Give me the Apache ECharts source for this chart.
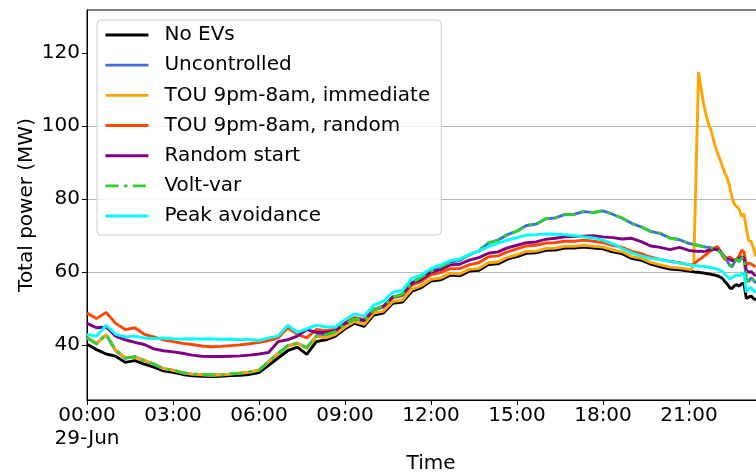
<!DOCTYPE html>
<html><head><meta charset="utf-8">
<script src="https://cdn.jsdelivr.net/npm/echarts@6/dist/echarts.min.js"></script>
<style>html,body{margin:0;padding:0;background:#fff}#c{width:756px;height:472px}</style>
</head><body><div id="c"></div>
<script>
// time of day, minutes after 00:00 on 29-Jun
const timesMin = [0,20,40,60,80,100,120,140,160,180,200,220,240,260,280,300,320,340,360,380,400,420,440,460,480,500,520,540,560,580,600,620,640,660,680,700,720,740,760,780,800,820,840,860,880,900,920,940,960,980,1000,1020,1040,1060,1080,1100,1120,1140,1160,1180,1200,1220,1240,1260,
1265,1270,1275,1280,1285,1290,1295,1300,1305,1310,1315,1320,1325,1330,1335,1340,1345,1350,1355,1360,1365,1370,1375,1380,1385,1390,1395,1400];

const seriesNames = ['No EVs','Uncontrolled','TOU 9pm-8am, immediate','TOU 9pm-8am, random','Random start','Volt-var','Peak avoidance'];

const noEVs = [40.3,38.8,37.6,37.0,35.3,35.8,34.8,34.0,33.0,32.6,
32.0,31.6,31.5,31.4,31.5,31.7,31.8,32.0,32.5,34.5,
36.5,38.5,39.5,37.5,41.0,41.5,42.5,44.5,46.0,45.2,
48.3,48.8,51.5,51.8,54.8,55.8,57.6,57.9,59.2,59.0,
60.3,60.5,62.1,62.3,63.6,64.3,65.2,65.3,66.0,66.1,
66.6,66.6,66.9,66.6,66.4,65.6,65.1,63.8,63.3,62.2,
61.5,60.9,60.7,60.3,
60.2,60.1,60.0,60.0,59.9,59.8,59.7,59.6,59.5,59.3,59.2,59.0,58.7,58.3,57.5,56.8,55.8,55.5,56.3,56.6,56.2,56.8,57.0,52.8,53.2,53.5,52.8,52.4];

const uncontrolled = [42.0,40.5,42.8,38.5,36.5,36.8,35.8,34.8,33.6,33.2,
32.5,32.1,31.9,31.8,31.9,32.1,32.3,32.6,33.2,35.5,
37.8,39.8,40.6,39.2,42.6,42.8,43.8,45.8,47.3,46.6,
49.8,50.6,53.2,53.8,57.2,58.6,60.4,61.3,62.8,63.2,
64.8,65.8,68.0,68.8,70.3,71.3,72.8,73.2,74.6,74.9,
75.8,75.9,76.6,76.4,76.8,75.9,74.8,73.4,72.4,71.2,
70.6,69.4,68.9,67.9,
67.8,67.6,67.5,67.3,67.2,67.1,66.9,66.8,66.7,66.5,66.3,66.0,65.5,65.0,64.0,63.0,62.0,61.5,62.8,63.5,63.0,63.8,64.3,58.0,57.5,58.5,57.8,57.0];

const touImmediate = [42.1,40.4,42.9,38.6,36.6,36.7,35.9,34.8,33.6,33.1,
32.5,32.1,32.0,31.8,31.9,32.1,32.4,32.6,33.2,35.4,
37.8,39.7,40.6,39.1,42.5,42.0,43.0,45.0,46.5,45.7,
48.8,49.3,52.0,52.3,55.3,56.3,58.1,58.4,59.7,59.5,
60.8,61.0,62.6,62.8,64.1,64.8,65.7,65.8,66.5,66.6,
67.1,67.1,67.4,67.1,66.9,66.1,65.6,64.3,63.8,62.7,
62.0,61.4,61.2,60.8,
60.7,62.0,88.5,114.9,110.5,106.5,103.5,101.0,99.3,97.0,94.5,92.5,90.8,89.0,87.3,85.8,83.5,80.5,78.6,78.0,77.3,75.3,76.0,72.0,68.6,68.5,66.5,64.3];

const touRandom = [48.8,47.3,49.0,46.0,44.3,44.8,43.0,42.3,41.5,41.0,
40.5,40.2,39.8,39.6,39.7,39.9,40.1,40.4,40.8,41.3,
42.0,44.8,43.0,42.0,44.3,44.0,44.5,46.3,47.6,47.0,
49.8,50.5,53.0,53.6,56.5,57.5,59.3,59.9,61.0,61.0,
62.0,62.6,64.2,64.5,65.6,66.4,67.2,67.4,68.0,68.1,
68.5,68.5,68.8,68.5,68.1,67.4,66.8,65.7,65.1,64.1,
63.5,63.0,62.6,62.1,
62.0,62.2,62.8,63.3,63.8,64.3,64.8,65.3,65.8,66.3,66.8,67.0,65.8,64.5,63.5,63.6,64.2,63.8,63.0,63.6,64.5,66.0,65.6,62.0,62.5,62.3,61.8,61.5];

const randomStart = [46.0,44.8,45.0,42.5,41.5,40.8,40.2,39.0,38.5,38.2,
37.8,37.3,37.0,36.9,36.9,37.0,37.1,37.3,37.6,38.0,
41.0,41.5,42.5,44.3,43.5,43.5,44.0,46.0,47.2,46.8,
49.6,50.6,53.2,53.8,57.0,58.0,60.0,60.7,62.0,62.2,
63.3,64.0,65.2,65.6,66.7,67.4,68.1,68.3,69.0,69.3,
69.7,69.8,69.9,70.0,69.7,69.5,69.1,69.3,68.4,67.2,
66.8,66.2,66.8,66.0,
65.9,65.8,65.8,65.7,65.8,65.7,65.8,66.0,66.2,66.3,66.3,66.2,65.8,65.0,64.2,63.8,63.5,63.2,63.3,63.5,63.8,64.2,64.0,60.5,60.0,60.2,59.5,59.0];

const voltVar = [42.2,40.3,43.0,38.7,36.4,36.9,35.7,34.9,33.5,33.3,
32.4,32.2,31.9,31.9,31.8,32.2,32.3,32.7,33.1,35.6,
37.7,39.9,40.5,39.4,42.5,42.9,43.7,45.9,47.2,46.8,
49.7,50.8,53.1,54.0,57.1,58.7,60.3,61.5,62.7,63.4,
64.7,66.0,68.1,68.7,70.4,71.2,72.9,73.1,74.7,74.8,
75.9,75.8,76.7,76.3,76.9,75.8,74.9,73.3,72.5,71.1,
70.7,69.3,69.0,67.8,
67.9,67.5,67.5,67.4,67.1,67.1,67.0,66.7,66.7,66.6,66.2,66.1,65.4,65.1,63.9,63.1,61.9,61.6,62.7,63.6,62.9,63.9,64.2,58.2,57.4,58.6,57.7,57.1];

const peakAvoidance = [43.0,42.5,45.5,43.0,42.3,42.5,42.0,41.8,42.0,41.8,
41.7,41.8,41.7,41.8,41.6,41.7,41.5,41.6,41.3,42.0,
42.5,45.5,43.5,44.5,45.5,45.0,45.0,47.0,48.6,48.0,
51.0,52.0,54.5,55.0,58.3,59.3,61.0,62.0,63.2,63.6,
64.9,65.8,67.0,68.0,68.8,69.5,70.2,70.3,70.5,70.4,
70.3,70.0,69.7,69.4,68.8,67.8,66.5,65.3,64.5,63.8,
63.5,63.0,62.5,62.1,
62.0,61.9,61.8,61.7,61.6,61.6,61.5,61.4,61.3,61.2,61.0,60.8,60.5,60.2,59.5,58.8,58.2,58.5,59.0,59.3,59.0,59.5,59.8,54.5,55.5,55.8,55.0,54.5];

const yTicks = [40,60,80,100,120];
const xTicks = [0,180,360,540,720,900,1080,1260];

const FONT = 'DejaVu Sans';
const LW = 2.9;
const styles = [
  {color:'#000000', type:'solid'},
  {color:'#4169E1', type:'solid'},
  {color:'#FFA500', type:'solid'},
  {color:'#FF4500', type:'solid'},
  {color:'#800080', type:'solid'},
  {color:'#32CD32', type:[13,5.5,3.5,5.5]},
  {color:'#00FFFF', type:'solid'}
];
const values = [noEVs, uncontrolled, touImmediate, touRandom, randomStart, voltVar, peakAvoidance];

function fmt(v){
  const h = Math.floor(v/60), m = Math.round(v - h*60);
  return String(h).padStart(2,'0') + ':' + String(m).padStart(2,'0');
}

const chart = echarts.init(document.getElementById('c'), null, {renderer:'canvas'});
chart.setOption({
  animation: false,
  backgroundColor: '#ffffff',
  grid: {left: 87, right: -19, top: 10, bottom: 72, show: true, borderColor: '#000', borderWidth: 1,
         backgroundColor: 'transparent', containLabel: false, outerBoundsMode: 'none'},
  xAxis: {
    type: 'value', min: 0, max: 1440, minInterval: 180, maxInterval: 180,
    axisLine: {show: true, lineStyle: {color: '#000', width: 1}},
    axisTick: {show: true, length: 5, lineStyle: {color: '#000', width: 1}, customValues: xTicks},
    splitLine: {show: false},
    axisLabel: {customValues: xTicks, color: '#000', fontFamily: FONT, fontSize: 20, lineHeight: 23, margin: 4,
      formatter: v => v === 0 ? '00:00\n29-Jun' : fmt(v)},
    name: 'Time', nameLocation: 'middle', nameGap: 53, nameMoveOverlap: false,
    nameTextStyle: {color: '#000', fontFamily: FONT, fontSize: 20, lineHeight: 22}
  },
  yAxis: {
    type: 'value', min: 25, max: 131.85, minInterval: 20, maxInterval: 20,
    axisLine: {show: true, lineStyle: {color: '#000', width: 1}},
    axisTick: {show: true, length: 5, lineStyle: {color: '#000', width: 1}, customValues: yTicks},
    splitLine: {show: true, showMinLine: false, showMaxLine: false, lineStyle: {color: '#b8b8b8', width: 1}},
    axisLabel: {customValues: yTicks, color: '#000', fontFamily: FONT, fontSize: 20, margin: 7},
    name: 'Total power (MW)', nameLocation: 'middle', nameGap: 49, nameMoveOverlap: false,
    nameTextStyle: {color: '#000', fontFamily: FONT, fontSize: 20, lineHeight: 22}
  },
  legend: {
    orient: 'vertical', left: 97, top: 20,
    padding: [4, 11, 8, 7],
    itemWidth: 43, itemHeight: 14, itemGap: 8.17,
    backgroundColor: 'rgba(255,255,255,0.8)', borderColor: '#cccccc', borderWidth: 1, borderRadius: 4,
    itemStyle: {opacity: 0},
    lineStyle: {width: LW},
    textStyle: {fontFamily: FONT, fontSize: 20, color: '#000', lineHeight: 22, padding: [0,0,0,11]},
    selectedMode: false,
    data: seriesNames
  },
  series: seriesNames.map((name, i) => ({
    name: name, type: 'line', symbol: 'none', showSymbol: false, silent: true,
    data: timesMin.map((t, j) => [t, values[i][j]]),
    lineStyle: {color: styles[i].color, width: LW, type: styles[i].type},
    itemStyle: {color: styles[i].color},
    emphasis: {disabled: true}
  }))
});
</script>
</body></html>
